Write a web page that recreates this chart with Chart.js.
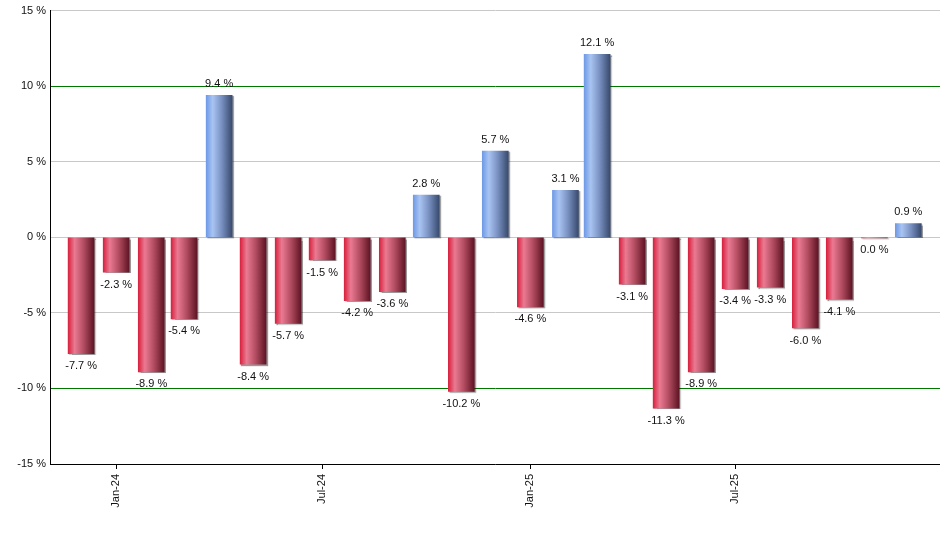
<!DOCTYPE html>
<html>
<head>
<meta charset="utf-8">
<script src="https://cdn.jsdelivr.net/npm/chart.js@4.4.1/dist/chart.umd.min.js"></script>
<style>
  html, body { margin: 0; padding: 0; background: #fff; }
  #wrap { width: 940px; height: 550px; }
</style>
</head>
<body>
<div id="wrap"><canvas id="returnsChart"></canvas></div>
<script>
// monthly returns, one bar per month
const months = [
  "2023-12", "2024-01", "2024-02", "2024-03", "2024-04", "2024-05", "2024-06",
  "2024-07", "2024-08", "2024-09", "2024-10", "2024-11", "2024-12", "2025-01",
  "2025-02", "2025-03", "2025-04", "2025-05", "2025-06", "2025-07", "2025-08",
  "2025-09", "2025-10", "2025-11", "2025-12"
];
const returns = [
  -7.7, -2.3, -8.9, -5.4, 9.4, -8.4, -5.7, -1.5, -4.2, -3.6, 2.8, -10.2, 5.7,
  -4.6, 3.1, 12.1, -3.1, -11.3, -8.9, -3.4, -3.3, -6.0, -4.1, -0.04, 0.9
];
const tickMonths = ["2024-01", "2024-07", "2025-01", "2025-07"];
const tickLabels = ["Jan-24", "Jul-24", "Jan-25", "Jul-25"];
const yTicks = [-15, -10, -5, 0, 5, 10, 15];
const markLines = [-10, 10];

const redStops = ["#d8223f", "#ea7a92", "#b24c60", "#5e1424"];
const blueStops = ["#6f9ae6", "#a9c4f2", "#7890c0", "#384a6e"];
const stopAt = [0, 0.25, 0.6, 1];
const barWidth = 26;

function dayOf(m) {
  const parts = m.split("-").map(Number);
  return Date.UTC(parts[0], parts[1] - 1, 1) / 86400000;
}

function fmt(v) {
  return (Math.round(v * 10) / 10).toFixed(1) + " %";
}

function barFill(ctx) {
  const chart = ctx.chart;
  const colors = returns[ctx.dataIndex] >= 0 ? blueStops : redStops;
  if (!chart.chartArea || !chart.scales.x) return colors[0];
  const cx = chart.scales.x.getPixelForValue(dayOf(months[ctx.dataIndex]));
  const g = chart.ctx.createLinearGradient(cx - barWidth / 2, 0, cx + barWidth / 2, 0);
  colors.forEach((c, i) => g.addColorStop(stopAt[i], c));
  return g;
}

const barShadow = {
  id: "barShadow",
  beforeDatasetsDraw(chart) {
    const c = chart.ctx;
    c.save();
    c.shadowColor = "rgba(0,0,0,0.4)";
    c.shadowOffsetX = 1.5;
    c.shadowOffsetY = 1;
    c.shadowBlur = 1;
  },
  afterDatasetsDraw(chart) {
    chart.ctx.restore();
  }
};

const valueLabels = {
  id: "valueLabels",
  afterDatasetsDraw(chart) {
    const c = chart.ctx;
    const meta = chart.getDatasetMeta(0);
    c.save();
    c.font = "11px 'Liberation Sans', Arial, sans-serif";
    c.fillStyle = "#111";
    c.textAlign = "center";
    meta.data.forEach((bar, i) => {
      const v = returns[i];
      if (v >= 0) {
        c.textBaseline = "bottom";
        c.fillText(fmt(v), bar.x, bar.y - 6);
      } else {
        c.textBaseline = "top";
        c.fillText(fmt(v), bar.x, bar.y + 7);
      }
    });
    c.restore();
  }
};

Chart.defaults.font.family = "'Liberation Sans', Arial, sans-serif";
Chart.defaults.font.size = 11;
Chart.defaults.color = "#111";

const returnsChart = new Chart(document.getElementById("returnsChart"), {
  type: "bar",
  data: {
    datasets: [{
      data: months.map((m, i) => ({ x: dayOf(m), y: returns[i] })),
      backgroundColor: barFill,
      borderWidth: 0,
      barThickness: barWidth
    }]
  },
  options: {
    responsive: true,
    maintainAspectRatio: false,
    animation: false,
    layout: { padding: { top: 9, right: 0, left: 0, bottom: 0 } },
    plugins: { legend: { display: false }, tooltip: { enabled: false } },
    scales: {
      x: {
        type: "linear",
        offset: false,
        min: dayOf(months[0]) - 27.5,
        max: dayOf(months[months.length - 1]) + 28,
        afterBuildTicks: (s) => {
          s.ticks = tickMonths.map((m) => ({ value: dayOf(m) }));
        },
        afterFit: (s) => { s.height = 86; },
        ticks: {
          autoSkip: false,
          minRotation: 90,
          maxRotation: 90,
          padding: 5,
          callback: (v, i) => tickLabels[i]
        },
        grid: { offset: false, drawOnChartArea: false, drawTicks: true, tickLength: 5, color: "#000" },
        border: { color: "#000", width: 1 }
      },
      y: {
        min: -15,
        max: 15,
        afterBuildTicks: (s) => {
          s.ticks = yTicks.map((v) => ({ value: v }));
        },
        afterFit: (s) => { s.width = 50; },
        ticks: {
          padding: 4,
          callback: (v) => v + " %"
        },
        grid: {
          drawTicks: false,
          color: (ctx) => markLines.includes(ctx.tick.value) ? "#007800" : "#c8c8c8",
          lineWidth: 1
        },
        border: { color: "#000", width: 1 }
      }
    }
  },
  plugins: [barShadow, valueLabels]
});
</script>
</body>
</html>
